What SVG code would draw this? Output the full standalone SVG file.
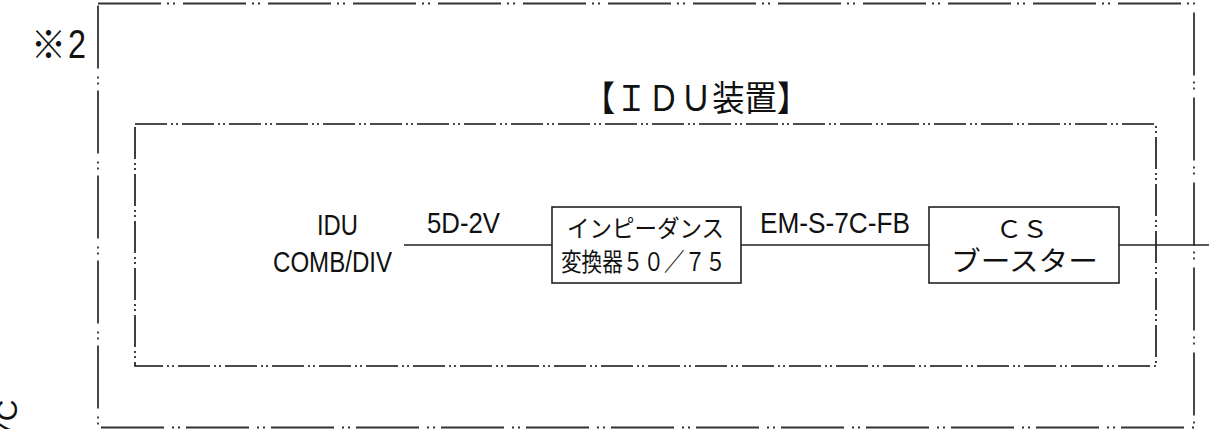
<svg xmlns="http://www.w3.org/2000/svg" width="1209" height="429" viewBox="0 0 1209 429">
<style>
.frame{fill:none;stroke:#333;stroke-width:1.8}
.outer{stroke-dasharray:63 6 2 4 2 8}
.inner{stroke-dasharray:32 4 2 3 2 4;stroke:#111;stroke-width:1.6}
.box{fill:#fff;stroke:#222;stroke-width:1.6}
.wire{stroke:#222;stroke-width:1.4;fill:none}
.lat{font-family:"Liberation Sans","Noto Sans CJK JP",sans-serif;fill:#111}
.jp{font-family:"Noto Sans CJK JP",sans-serif;fill:#111}
</style>
<rect width="1209" height="429" fill="#fff"/>
<g id="frames">
<rect class="frame outer" x="98" y="3.5" width="1096" height="424"/>
<rect class="frame inner" x="135" y="124" width="1021" height="242"/>
</g>
<g id="labels">
<text class="jp" x="31" y="58" font-size="38" textLength="35" lengthAdjust="spacingAndGlyphs">※</text>
<text class="lat" x="68" y="58" font-size="40" textLength="18" lengthAdjust="spacingAndGlyphs">2</text>
<text class="jp" x="583" y="111" font-size="35" textLength="226" lengthAdjust="spacingAndGlyphs">【ＩＤＵ装置】</text>
<text class="lat" transform="translate(17,438) rotate(-90)" font-size="30">7C</text>
</g>
<g id="connectors">
<line class="wire" x1="404" y1="245" x2="552" y2="245"/>
<line class="wire" x1="741" y1="245" x2="929" y2="245"/>
<line class="wire" x1="1119" y1="245" x2="1209" y2="245"/>
<text class="lat" x="427" y="233" font-size="29" textLength="73" lengthAdjust="spacingAndGlyphs">5D-2V</text>
<text class="lat" x="760" y="233" font-size="29" textLength="150" lengthAdjust="spacingAndGlyphs">EM-S-7C-FB</text>
</g>
<g id="node-idu">
<text class="lat" x="317" y="235" font-size="29" textLength="41" lengthAdjust="spacingAndGlyphs">IDU</text>
<text class="lat" x="273" y="272" font-size="29" textLength="119" lengthAdjust="spacingAndGlyphs">COMB/DIV</text>
</g>
<g id="node-impedance">
<rect class="box" x="552" y="207" width="189" height="76"/>
<text class="jp" x="567" y="237" font-size="24" textLength="157" lengthAdjust="spacingAndGlyphs">インピーダンス</text>
<text class="jp" x="561" y="271" font-size="25" textLength="165" lengthAdjust="spacingAndGlyphs">変換器５０／７５</text>
</g>
<g id="node-booster">
<rect class="box" x="929" y="207" width="190" height="76"/>
<text class="jp" x="996" y="238" font-size="24" textLength="52" lengthAdjust="spacingAndGlyphs">ＣＳ</text>
<text class="jp" x="951" y="271" font-size="27" textLength="147" lengthAdjust="spacingAndGlyphs">ブースター</text>
</g>
</svg>
